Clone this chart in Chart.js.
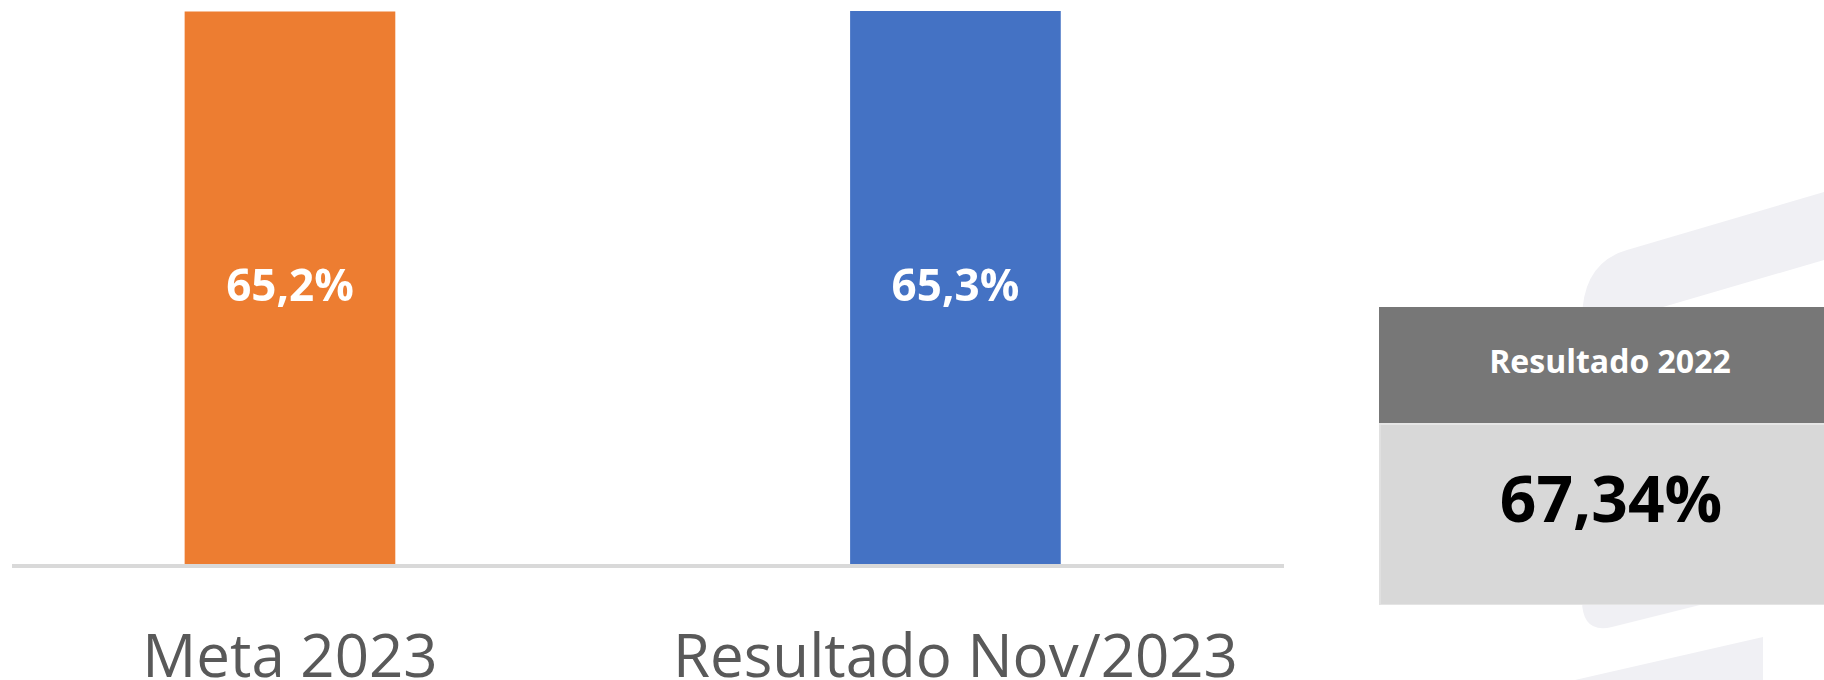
<!DOCTYPE html>
<html>
<head>
<meta charset="utf-8">
<script src="https://cdn.jsdelivr.net/npm/chart.js@4/dist/chart.umd.min.js"></script>
<style>
    html, body { margin: 0; padding: 0; background: #fff; width: 1824px; height: 680px; overflow: hidden; }
    #wrap { position: absolute; left: 0; top: 0; width: 1300px; height: 680px; }
    #bg { position: absolute; left: 0; top: 0; }
    .kpi { position: absolute; left: 1379px; top: 307px; width: 462px; font-family: "Open Sans", sans-serif; font-weight: bold; text-align: center; }
    .kpi-head { height: 118px; background: #777777; color: #fff; font-size: 32px; display: flex; align-items: center; justify-content: center; box-sizing: border-box; padding-bottom: 9px; border-bottom: 2px solid #e6e6e6; }
    .kpi-body { height: 180px; background: #d8d8d8; color: #000; font-size: 64px; display: flex; align-items: center; justify-content: center; box-sizing: border-box; padding-bottom: 34px; border-left: 2px solid #e0e0e0; border-bottom: 1px solid #e4e4e4; }
</style>
</head>
<body>
<svg id="bg" width="1824" height="680">
    <path fill="#f0f0f4" d="M1582,320 Q1582,263 1627,250 L1824,192 L1824,260 L1663,307 L1663,400 L1760,400 L1760,590 L1612,627 Q1582,634 1582,600 Z"/>
    <path fill="#f0f0f4" d="M1540,690 L1540,688 L1763,637 L1763,690 Z"/>
</svg>
<div id="wrap"><canvas id="barChart"></canvas></div>
<div class="kpi">
    <div class="kpi-head" id="kpiTitle"></div>
    <div class="kpi-body" id="kpiValue"></div>
</div>
<script>
    // chart data
    var categories = ['Meta 2023', 'Resultado Nov/2023'];
    var values = [65.2, 65.3];
    var barColors = ['#ED7D31', '#4472C4'];

    // side box
    var kpiTitle = 'Resultado 2022';
    var kpiValue = 67.34;

    function pct(v, digits) {
        return v.toFixed(digits).replace('.', ',') + '%';
    }

    document.getElementById('kpiTitle').textContent = kpiTitle;
    document.getElementById('kpiValue').textContent = pct(kpiValue, 2);

    // white value labels in the middle of each bar
    var barLabels = {
        id: 'barLabels',
        afterDatasetsDraw: function(chart) {
            var ctx = chart.ctx;
            var meta = chart.getDatasetMeta(0);
            ctx.save();
            ctx.font = 'bold 44px "Open Sans"';
            ctx.fillStyle = '#ffffff';
            ctx.textAlign = 'center';
            ctx.textBaseline = 'middle';
            meta.data.forEach(function(bar, i) {
                var p = bar.getProps(['x', 'y', 'base'], true);
                ctx.fillText(pct(values[i], 1), p.x, (p.y + p.base) / 2);
            });
            ctx.restore();
        }
    };

    var ctx = document.getElementById('barChart').getContext('2d');
    var barChart = new Chart(ctx, {
        type: 'bar',
        data: {
            datasets: [
                {
                    data: values.map(function(v, i) { return { x: i, y: v }; }),
                    backgroundColor: barColors,
                    barThickness: 210
                }
            ]
        },
        options: {
            responsive: true,
            maintainAspectRatio: false,
            animation: false,
            layout: { padding: { left: 14, right: 16, top: 11, bottom: 0 } },
            plugins: { legend: { display: false }, tooltip: { enabled: false } },
            scales: {
                x: {
                    type: 'linear',
                    offset: false,
                    min: -0.4147,
                    max: 1.4937,
                    grid: { display: false, drawTicks: false, offset: false },
                    border: { display: true, color: '#d9d9d9', width: 4, z: 1 },
                    afterBuildTicks: function(scale) {
                        scale.ticks = categories.map(function(c, i) { return { value: i }; });
                    },
                    afterFit: function(scale) { scale.height = 114; },
                    ticks: {
                        autoSkip: false,
                        maxRotation: 0,
                        padding: 58,
                        color: '#595959',
                        font: { family: 'Open Sans', size: 60 },
                        callback: function(value) { return categories[value]; }
                    }
                },
                y: { display: false, min: 0, max: 65.3 }
            }
        },
        plugins: [barLabels]
    });
</script>
</body>
</html>
